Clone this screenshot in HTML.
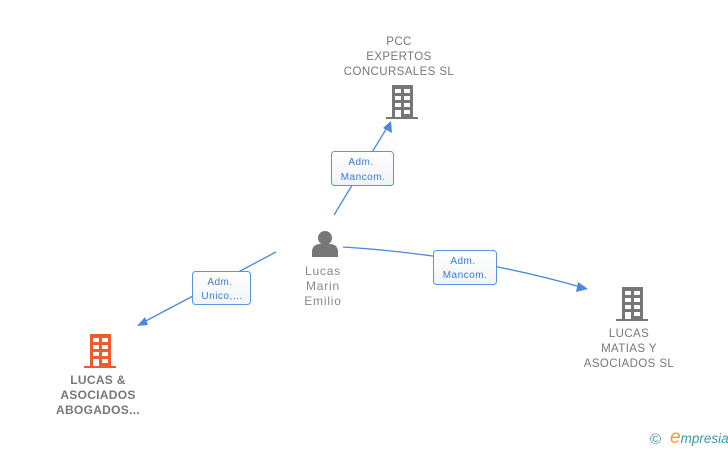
<!DOCTYPE html>
<html><head><meta charset="utf-8"><style>
html,body{margin:0;padding:0;background:#fff;width:728px;height:450px;overflow:hidden}
svg{display:block}
text{font-family:"Liberation Sans",sans-serif}
</style></head><body>
<svg width="728" height="450" viewBox="0 0 728 450" xmlns="http://www.w3.org/2000/svg">
<defs>
<symbol id="bld" viewBox="0 0 32 34">
<rect x="6" y="0" width="21" height="32" />
<rect x="0" y="32" width="32" height="2"/>
<g fill="#fff">
<rect x="9" y="4" width="6" height="4"/><rect x="18" y="4" width="6" height="4"/>
<rect x="9" y="11" width="6" height="4"/><rect x="18" y="11" width="6" height="4"/>
<rect x="9" y="18" width="6" height="4"/><rect x="18" y="18" width="6" height="4"/>
<rect x="9" y="25" width="6" height="7"/><rect x="18" y="25" width="6" height="4"/>
</g>
</symbol>
<linearGradient id="lg" x1="0" y1="0" x2="0" y2="1"><stop offset="0" stop-color="#fff"/><stop offset="1" stop-color="#f1f4f8"/></linearGradient>
</defs>
<g stroke="#4a88dd" stroke-width="1.3" fill="none">
<line x1="334" y1="215" x2="388" y2="126"/>
<line x1="276" y1="252" x2="142" y2="323"/>
<path d="M343 247 Q470 255 584 288"/>
</g>
<g fill="#4a88dd">
<polygon points="391,121 392,133 383,128"/>
<polygon points="137,326 145,317 148,325"/>
<polygon points="588,289 578,282 576,292"/>
</g>
<g fill="url(#lg)" stroke="#5a94e0" stroke-width="1">
<rect x="331.5" y="151.5" width="62" height="34" rx="3"/>
<rect x="192.5" y="271.5" width="58" height="33" rx="3"/>
<rect x="433.5" y="250.5" width="63" height="34" rx="3"/>
</g>
<g fill="#3a7ad8" font-size="10" text-anchor="middle" letter-spacing="0.5">
<text x="361" y="165">Adm.</text><text x="363" y="180">Mancom.</text>
<text x="220" y="285">Adm.</text><text x="222" y="299">Unico,...</text>
<text x="463" y="264">Adm.</text><text x="465" y="278">Mancom.</text>
</g>
<use href="#bld" x="386" y="85" width="32" height="34" fill="#767676"/>
<use href="#bld" x="616" y="287" width="32" height="34" fill="#767676"/>
<use href="#bld" x="84" y="334" width="32" height="34" fill="#f05a30"/>
<g fill="#777">
<circle cx="325" cy="238" r="7"/>
<path d="M312 257 L312 251 Q313 244 320 244 L330 244 Q337 244 338 251 L338 257 Z"/>
</g>
<g fill="#777" font-size="11.5" text-anchor="middle" letter-spacing="0.4">
<text x="399" y="45">PCC</text>
<text x="399" y="60">EXPERTOS</text>
<text x="399" y="75">CONCURSALES SL</text>
<text x="629" y="337">LUCAS</text>
<text x="629" y="352">MATIAS Y</text>
<text x="629" y="367">ASOCIADOS  SL</text>
</g>
<g fill="#888" font-size="12" text-anchor="middle" letter-spacing="0.8">
<text x="323" y="275">Lucas</text>
<text x="323" y="290">Marin</text>
<text x="323" y="305">Emilio</text>
</g>
<g fill="#777" font-size="12" font-weight="bold" text-anchor="middle" letter-spacing="0.3">
<text x="98" y="384">LUCAS &amp;</text>
<text x="98" y="399">ASOCIADOS</text>
<text x="98" y="414">ABOGADOS...</text>
</g>
<text x="650" y="444" font-size="15" fill="#3a9aa0">©</text>
<text x="670" y="443" font-size="13.5" fill="#3a9aa0" font-style="italic" font-family="Liberation Serif,serif"><tspan fill="#f0a020" font-size="19">e</tspan>mpresia</text>
</svg>
</body></html>
